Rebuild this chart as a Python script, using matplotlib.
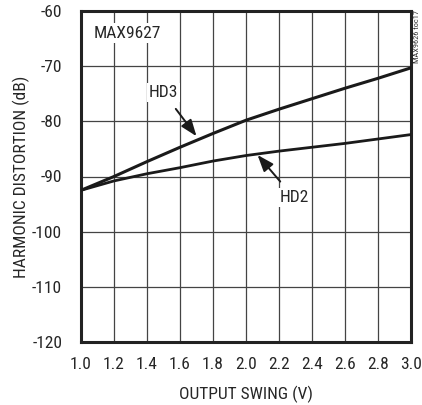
import matplotlib
matplotlib.use("Agg")
import matplotlib.pyplot as plt
from matplotlib import font_manager

swing = [1.0, 1.2, 1.4, 1.6, 1.8, 2.0, 2.2, 2.4, 2.6, 2.8, 3.0]
hd3 = [-92.5, -90.0, -87.3, -84.7, -82.2, -79.8, -77.8, -75.9, -74.0, -72.2, -70.3]
hd2 = [-92.5, -90.8, -89.5, -88.4, -87.2, -86.2, -85.4, -84.7, -84.0, -83.2, -82.4]
xticks = [1.0, 1.2, 1.4, 1.6, 1.8, 2.0, 2.2, 2.4, 2.6, 2.8, 3.0]
yticks = [-120, -110, -100, -90, -80, -70, -60]

# pick a regular-weight condensed sans font if one is installed
cands = []
for f in font_manager.fontManager.ttflist:
    if f.style != 'normal' or f.weight not in (400, 'normal', 'regular'):
        continue
    st = str(f.stretch)
    if 'Narrow' in f.name or 'Condensed' in f.name or st in ('condensed', 'semi-condensed'):
        cands.append(f)
pref = ['Liberation Sans Narrow', 'Roboto Condensed', 'DejaVu Sans', 'Open Sans Condensed', 'Noto Sans']
cands.sort(key=lambda f: pref.index(f.name) if f.name in pref else len(pref))
if cands:
    FP = font_manager.FontProperties(fname=cands[0].fname)
    FS = 12.5
else:
    FP = font_manager.FontProperties(family=['Liberation Sans', 'DejaVu Sans'])
    FS = 11

def fp(size):
    p = FP.copy()
    p.set_size(size)
    return p

TXT = '#262626'

fig = plt.figure(figsize=(4.22, 4.05), dpi=100)
ax = fig.add_axes([81/422, 1-342/405, 330/422, 331/405])
ax.set_xlim(1.0, 3.0)
ax.set_ylim(-120, -60)
ax.set_xticks(xticks)
ax.set_xticklabels([f"{t:.1f}" for t in xticks], fontproperties=fp(FS))
ax.set_yticks(yticks)
ax.set_yticklabels([str(t) for t in yticks], fontproperties=fp(FS))
ax.grid(True, color='#444444', lw=0.9)
ax.tick_params(axis='y', length=0, pad=13.5, colors=TXT)
ax.tick_params(axis='x', length=0, pad=10.5, colors=TXT)
for s in ax.spines.values():
    s.set_linewidth(2.2)
    s.set_color('#222222')

ax.plot(swing, hd3, color='#1a1a1a', lw=2.2, zorder=3)
ax.plot(swing, hd2, color='#1a1a1a', lw=2.0, zorder=3)

ax.set_xlabel("OUTPUT SWING (V)", fontproperties=fp(FS), color=TXT, labelpad=10)
ax.set_ylabel("HARMONIC DISTORTION (dB)", fontproperties=fp(FS), color=TXT, labelpad=1.5)

bbox = dict(facecolor='white', edgecolor='none', pad=1.5)
ax.text(1.28, -64.0, "MAX9627", fontproperties=fp(FS), ha='center', va='center', bbox=bbox, zorder=4, color=TXT)
ap = dict(arrowstyle='-|>,head_length=0.8,head_width=0.3', color='#1a1a1a', lw=1.4, shrinkA=6, shrinkB=0)
ax.annotate("HD3", xy=(1.70, -82.7), xytext=(1.50, -74.8), fontproperties=fp(FS), ha='center', va='center',
            bbox=bbox, zorder=4, color=TXT, arrowprops=ap)
ax.annotate("HD2", xy=(2.07, -86.1), xytext=(2.29, -93.8), fontproperties=fp(FS), ha='center', va='center',
            bbox=bbox, zorder=4, color=TXT, arrowprops=ap)

fig.text(417/422, 1-10/405, "MAX9626 toc17", rotation=90, fontproperties=fp(6), ha='center', va='top', color='#333333')

fig.savefig("out.png", dpi=100)
